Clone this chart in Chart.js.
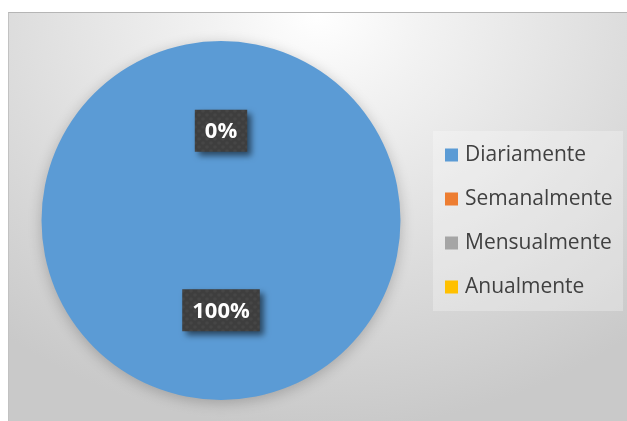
<!DOCTYPE html>
<html>
<head>
<meta charset="utf-8">
<script src="https://cdn.jsdelivr.net/npm/chart.js@4.4.1/dist/chart.umd.min.js"></script>
<style>
  html, body { margin: 0; padding: 0; background: #fff; overflow: hidden; }
  #frame {
    position: absolute; left: 8px; top: 12px; width: 618px; height: 417px;
    border-top: 1px solid #b5b5b5; border-left: 1px solid #c2c2c2;
    background: radial-gradient(ellipse 80% 100% at 50% 0%, #ffffff 0%, #f2f2f2 22%, #dedede 60%, #c9c9c9 100%);
  }
</style>
</head>
<body>
<div id="frame"><canvas id="chart" width="618" height="417"></canvas></div>
<script>
const categories = ['Diariamente', 'Semanalmente', 'Mensualmente', 'Anualmente']
const values = [100, 0, 0, 0]
const colors = ['#5B9BD5', '#ED7D31', '#A5A5A5', '#FFC000']

// dotted texture for the label boxes
function makePattern(ctx) {
  const c = document.createElement('canvas')
  c.width = 8; c.height = 8
  const p = c.getContext('2d')
  p.fillStyle = '#3e3e3e'
  p.fillRect(0, 0, 8, 8)
  p.fillStyle = '#464646'
  p.beginPath(); p.arc(2, 2, 1.8, 0, Math.PI * 2); p.fill()
  p.beginPath(); p.arc(6, 6, 1.8, 0, Math.PI * 2); p.fill()
  return ctx.createPattern(c, 'repeat')
}

const pieShadow = {
  id: 'pieShadow',
  beforeDatasetsDraw(chart) {
    const ctx = chart.ctx
    ctx.save()
    ctx.shadowColor = 'rgba(0,0,0,0.22)'
    ctx.shadowBlur = 14
    ctx.shadowOffsetY = 3
  },
  afterDatasetsDraw(chart) {
    chart.ctx.restore()
  }
}

const pctLabels = {
  id: 'pctLabels',
  afterDatasetsDraw(chart) {
    const ctx = chart.ctx
    const meta = chart.getDatasetMeta(0)
    const data = chart.data.datasets[0].data
    const total = data.reduce((a, b) => a + b, 0)
    const seen = new Set()
    const pattern = makePattern(ctx)
    ctx.save()
    ctx.font = 'bold 22px "Open Sans"'
    ctx.textAlign = 'center'
    ctx.textBaseline = 'middle'
    meta.data.forEach((arc, i) => {
      const pos = arc.tooltipPosition()
      const key = Math.round(pos.x) + ',' + Math.round(pos.y)
      if (seen.has(key)) return
      seen.add(key)
      const txt = Math.round(data[i] / total * 100) + '%'
      const w = ctx.measureText(txt).width + 20
      const h = 42
      ctx.save()
      ctx.shadowColor = 'rgba(0,0,0,0.55)'
      ctx.shadowBlur = 6
      ctx.shadowOffsetX = 4
      ctx.shadowOffsetY = 4
      ctx.fillStyle = pattern
      ctx.fillRect(pos.x - w / 2, pos.y - h / 2, w, h)
      ctx.restore()
      ctx.fillStyle = '#ffffff'
      ctx.fillText(txt, pos.x, pos.y + 1)
    })
    ctx.restore()
  }
}

const sideLegend = {
  id: 'sideLegend',
  afterDraw(chart) {
    const ctx = chart.ctx
    const ds = chart.data.datasets[0]
    ctx.save()
    ctx.fillStyle = 'rgba(255,255,255,0.28)'
    ctx.fillRect(424, 118, 190, 180)
    ctx.font = '21px "Open Sans"'
    ctx.textBaseline = 'middle'
    ctx.textAlign = 'left'
    chart.data.labels.forEach((lbl, i) => {
      const cy = 142 + i * 44
      ctx.fillStyle = ds.backgroundColor[i]
      ctx.fillRect(436, cy - 6.5, 13, 13)
      ctx.fillStyle = '#404040'
      ctx.fillText(lbl, 456, cy)
    })
    ctx.restore()
  }
}

new Chart(document.getElementById('chart'), {
  type: 'pie',
  data: {
    labels: categories,
    datasets: [{
      data: values,
      backgroundColor: colors,
      borderWidth: 0
    }]
  },
  options: {
    responsive: false,
    animation: false,
    layout: { padding: { left: 32, right: 226, top: 28, bottom: 30 } },
    plugins: { legend: { display: false }, tooltip: { enabled: false } }
  },
  plugins: [pieShadow, pctLabels, sideLegend]
})
</script>
</body>
</html>
